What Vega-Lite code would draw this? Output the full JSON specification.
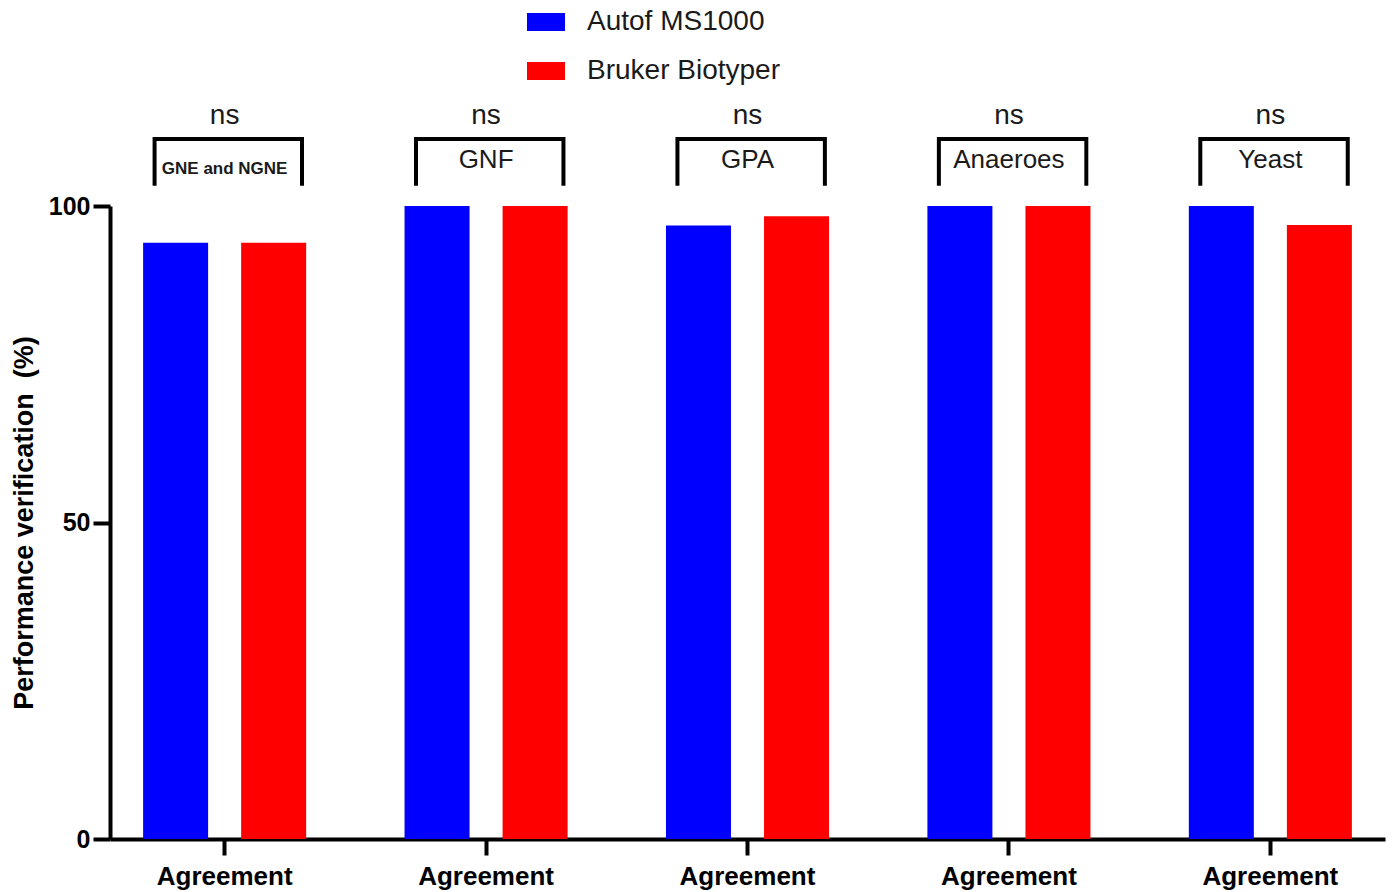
{
  "$schema": "https://vega.github.io/schema/vega-lite/v6.json",
  "width": 1275,
  "height": 633,
  "autosize": {"type": "none"},
  "padding": {"left": 110, "top": 206, "right": 8, "bottom": 53},
  "background": "white",
  "config": {
    "font": "Liberation Sans",
    "view": {"stroke": null}
  },
  "datasets": {
    "bars": [
      {"group": "GNE and NGNE", "platform": "Autof MS1000", "value": 94.2},
      {"group": "GNE and NGNE", "platform": "Bruker Biotyper", "value": 94.2},
      {"group": "GNF", "platform": "Autof MS1000", "value": 100},
      {"group": "GNF", "platform": "Bruker Biotyper", "value": 100},
      {"group": "GPA", "platform": "Autof MS1000", "value": 96.9},
      {"group": "GPA", "platform": "Bruker Biotyper", "value": 98.4},
      {"group": "Anaeroes", "platform": "Autof MS1000", "value": 100},
      {"group": "Anaeroes", "platform": "Bruker Biotyper", "value": 100},
      {"group": "Yeast", "platform": "Autof MS1000", "value": 100},
      {"group": "Yeast", "platform": "Bruker Biotyper", "value": 97.0}
    ],
    "groups": [
      {"group": "GNE and NGNE", "test": "ns"},
      {"group": "GNF", "test": "ns"},
      {"group": "GPA", "test": "ns"},
      {"group": "Anaeroes", "test": "ns"},
      {"group": "Yeast", "test": "ns"}
    ]
  },
  "layer": [
    {
      "data": {"name": "bars"},
      "mark": {"type": "bar"},
      "encoding": {
        "x": {
          "field": "group", "type": "nominal", "title": null,
          "sort": ["GNE and NGNE", "GNF", "GPA", "Anaeroes", "Yeast"],
          "scale": {"paddingInner": 0.2, "paddingOuter": 0.0385},
          "axis": {
            "title": null,
            "labelExpr": "'Agreement'",
            "labelAngle": 0,
            "labelFont": "Liberation Sans",
            "labelFontSize": 26,
            "labelFontWeight": "bold",
            "labelColor": "#000000",
            "labelPadding": 8,
            "tickSize": 16,
            "tickWidth": 4,
            "tickColor": "black",
            "domainColor": "black",
            "domainWidth": 4,
            "grid": false
          }
        },
        "xOffset": {
          "field": "platform", "type": "nominal",
          "scale": {"paddingInner": 0.337, "paddingOuter": 0.235}
        },
        "y": {
          "field": "value", "type": "quantitative",
          "title": "Performance verification\u00a0\u00a0(%)",
          "scale": {"domain": [0, 100], "nice": false, "zero": true},
          "axis": {
            "title": "Performance verification\u00a0\u00a0(%)",
            "titleFont": "Liberation Sans",
            "titleFontSize": 27,
            "titleFontWeight": "bold",
            "titleColor": "#000000",
            "titlePadding": 10,
            "values": [0, 50, 100],
            "labelFont": "Liberation Sans",
            "labelFontSize": 25,
            "labelFontWeight": "bold",
            "labelColor": "#000000",
            "labelPadding": 3,
            "tickSize": 17,
            "tickWidth": 4,
            "tickColor": "black",
            "domainColor": "black",
            "domainWidth": 4,
            "grid": false
          }
        },
        "color": {
          "field": "platform", "type": "nominal",
          "scale": {"domain": ["Autof MS1000", "Bruker Biotyper"], "range": ["#0000FF", "#FF0000"]},
          "legend": {
            "title": null,
            "orient": "none",
            "legendX": 417,
            "legendY": -203,
            "padding": 0,
            "symbolType": "M-1,-0.474H1V0.474H-1Z",
            "symbolSize": 1444,
            "symbolStrokeWidth": 0,
            "labelFont": "Liberation Sans",
            "labelFontSize": 28,
            "labelColor": "#1a1a1a",
            "labelOffset": 22,
            "labelLimit": 500,
            "rowPadding": 16
          }
        }
      }
    },
    {
      "data": {"name": "groups"},
      "mark": {"type": "rule", "strokeWidth": 4, "color": "black"},
      "encoding": {
        "x": {"field": "group", "type": "nominal", "title": null, "sort": ["GNE and NGNE", "GNF", "GPA", "Anaeroes", "Yeast"], "bandPosition": 0.163},
        "x2": {"field": "group", "bandPosition": 0.872},
        "y": {"datum": 110.6, "type": "quantitative"}
      }
    },
    {
      "data": {"name": "groups"},
      "mark": {"type": "rule", "strokeWidth": 4, "color": "black"},
      "encoding": {
        "x": {"field": "group", "type": "nominal", "title": null, "sort": ["GNE and NGNE", "GNF", "GPA", "Anaeroes", "Yeast"], "bandPosition": 0.165},
        "y": {"datum": 110.9, "type": "quantitative"},
        "y2": {"datum": 103.2}
      }
    },
    {
      "data": {"name": "groups"},
      "mark": {"type": "rule", "strokeWidth": 4, "color": "black"},
      "encoding": {
        "x": {"field": "group", "type": "nominal", "title": null, "sort": ["GNE and NGNE", "GNF", "GPA", "Anaeroes", "Yeast"], "bandPosition": 0.87},
        "y": {"datum": 110.9, "type": "quantitative"},
        "y2": {"datum": 103.2}
      }
    },
    {
      "data": {"name": "groups"},
      "mark": {"type": "text", "font": "Liberation Sans", "fontSize": 28, "color": "#1a1a1a", "baseline": "alphabetic"},
      "encoding": {
        "x": {"field": "group", "type": "nominal", "title": null, "sort": ["GNE and NGNE", "GNF", "GPA", "Anaeroes", "Yeast"]},
        "y": {"datum": 113.0, "type": "quantitative"},
        "text": {"field": "test"}
      }
    },
    {
      "data": {"name": "groups"},
      "transform": [{"filter": "datum.group !== 'GNE and NGNE'"}],
      "mark": {"type": "text", "font": "Liberation Sans", "fontSize": 26, "color": "#1a1a1a", "baseline": "alphabetic"},
      "encoding": {
        "x": {"field": "group", "type": "nominal", "title": null, "sort": ["GNE and NGNE", "GNF", "GPA", "Anaeroes", "Yeast"]},
        "y": {"datum": 106.0, "type": "quantitative"},
        "text": {"field": "group"}
      }
    },
    {
      "data": {"name": "groups"},
      "transform": [{"filter": "datum.group === 'GNE and NGNE'"}],
      "mark": {"type": "text", "font": "Liberation Sans", "fontSize": 17, "fontWeight": "bold", "color": "#1a1a1a", "baseline": "alphabetic"},
      "encoding": {
        "x": {"field": "group", "type": "nominal", "title": null, "sort": ["GNE and NGNE", "GNF", "GPA", "Anaeroes", "Yeast"]},
        "y": {"datum": 105.0, "type": "quantitative"},
        "text": {"field": "group"}
      }
    }
  ]
}
